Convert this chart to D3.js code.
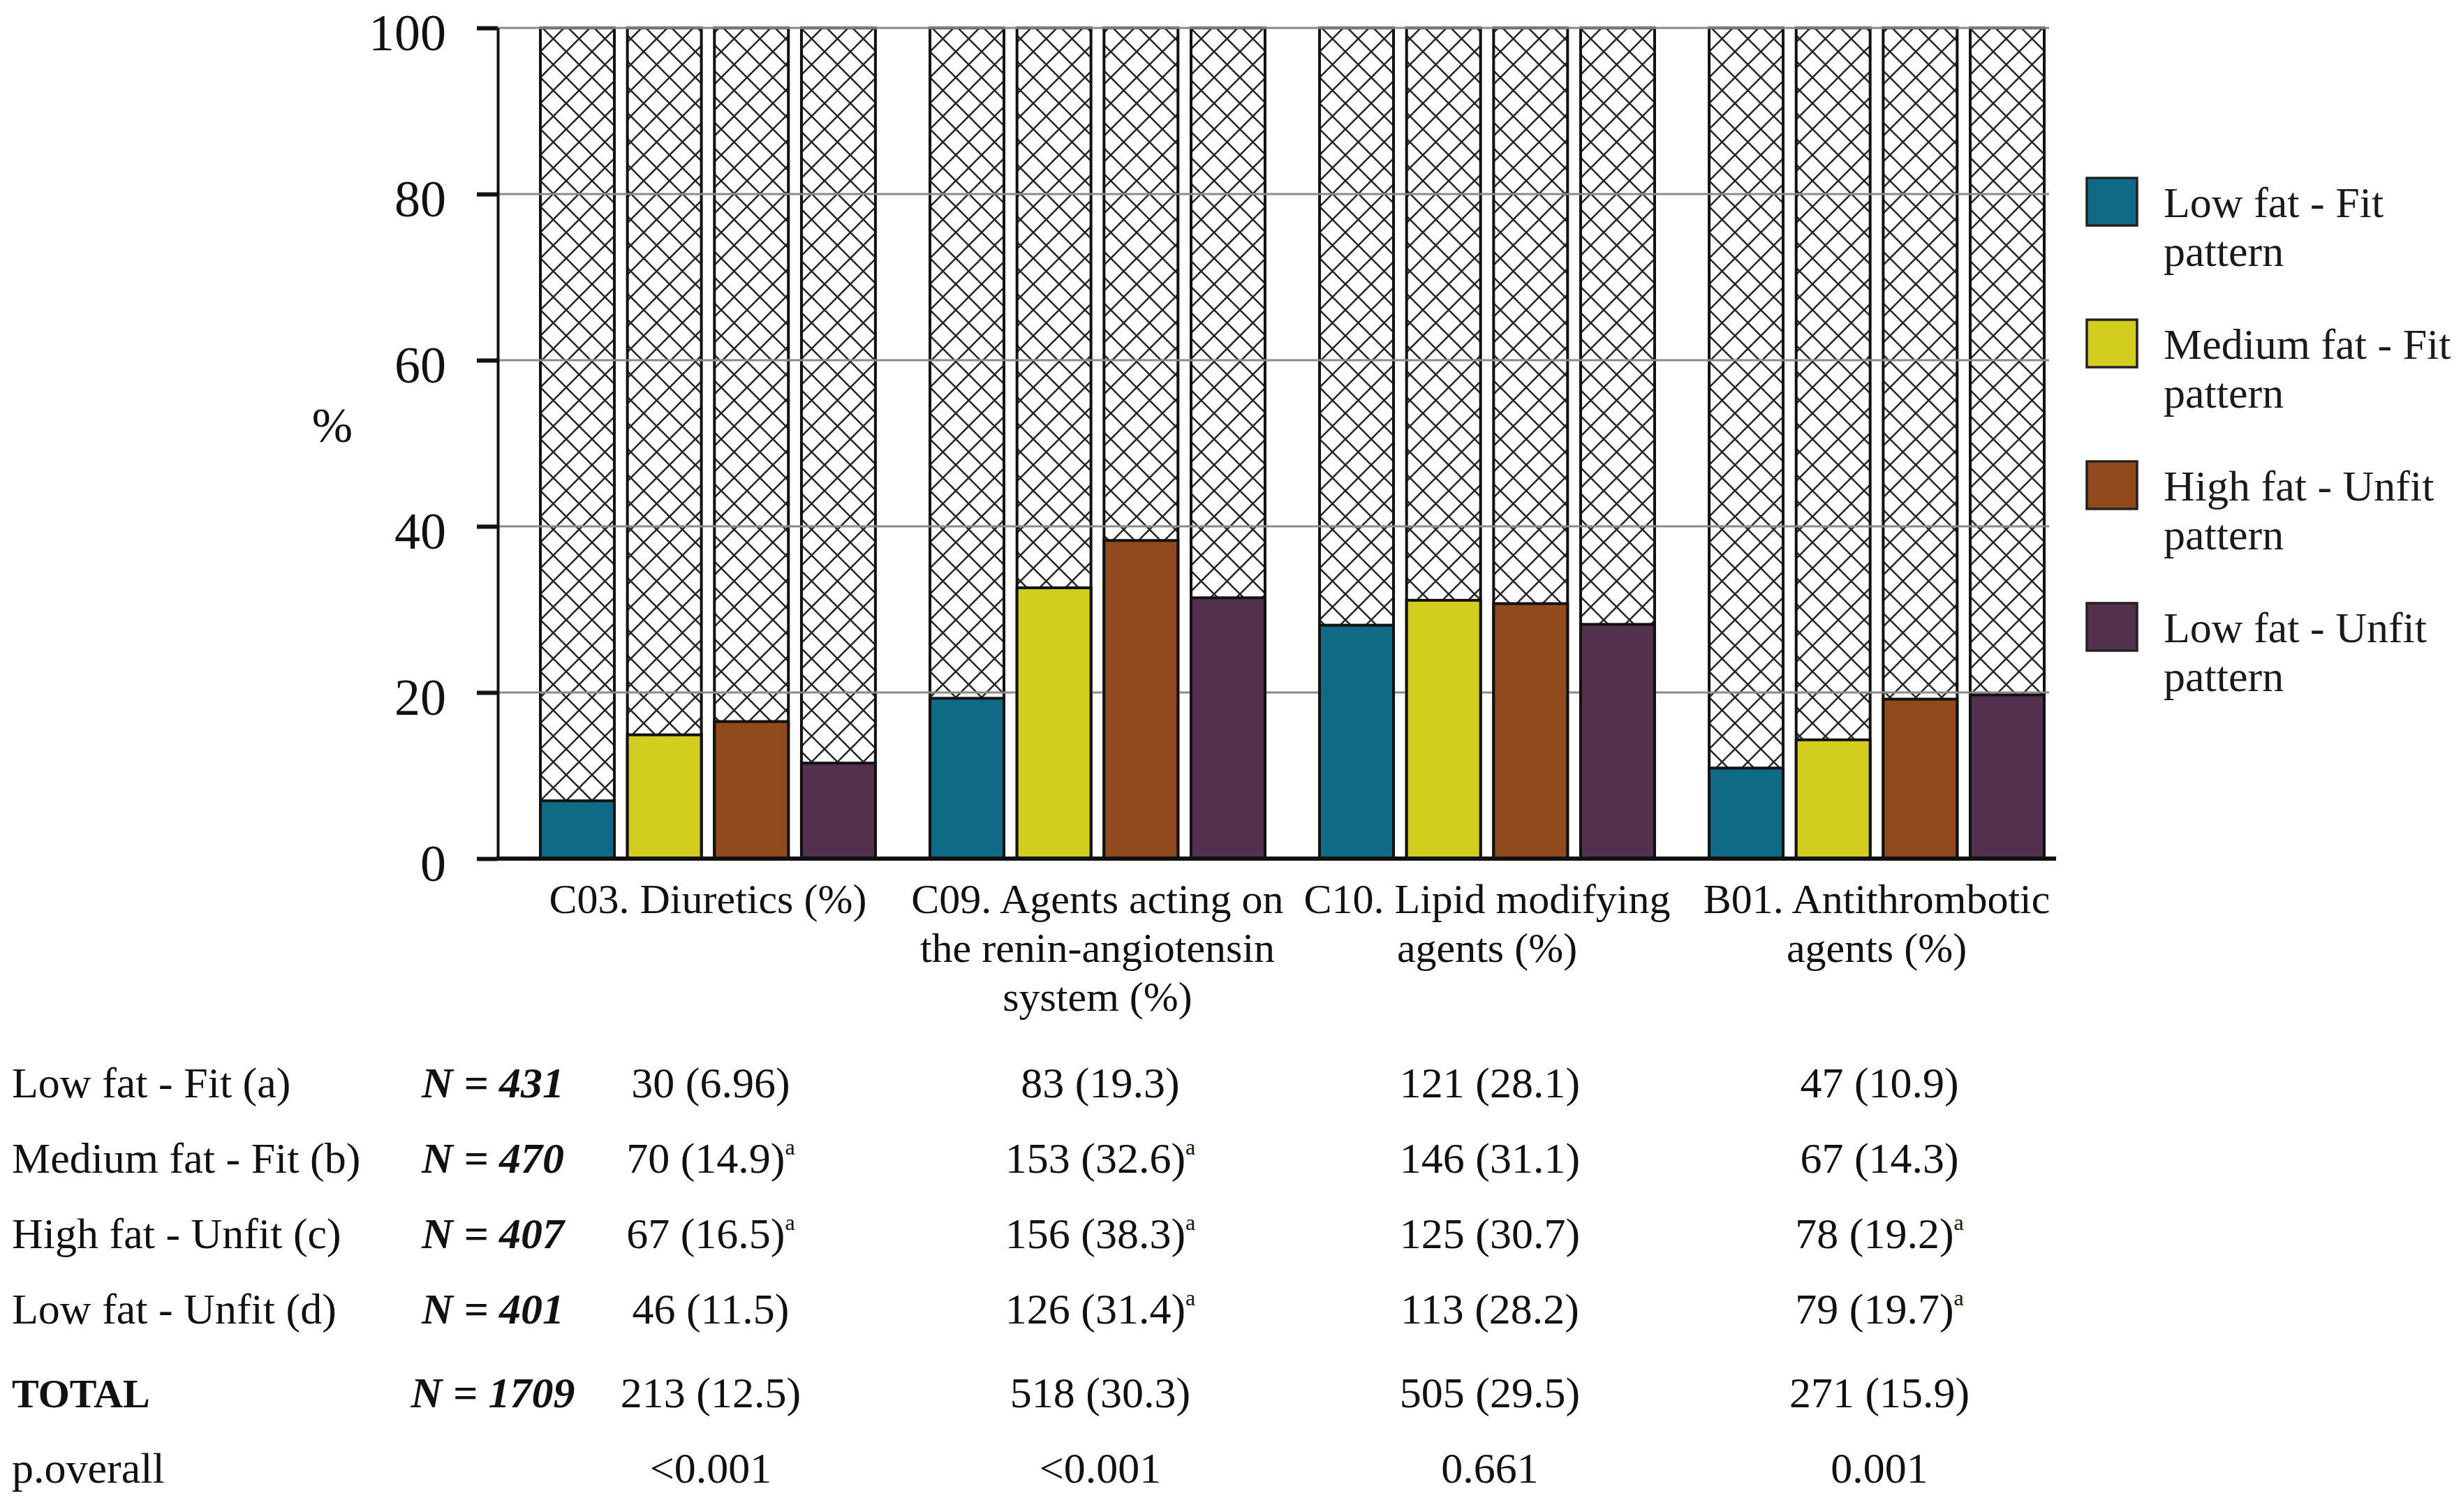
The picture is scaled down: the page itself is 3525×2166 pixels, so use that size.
<!DOCTYPE html>
<html>
<head>
<meta charset="utf-8">
<script src="https://cdn.jsdelivr.net/npm/d3@7"></script>
<style>
  html, body { margin: 0; padding: 0; background: #ffffff; }
  svg { display: block; font-family: "Liberation Serif", "Times New Roman", serif; }
</style>
</head>
<body>
<svg id="chart" width="3525" height="2166"></svg>
<script>
// ---------------- data ----------------
const groups = ["C03", "C09", "C10", "B01"];
const groupLabels = [
  ["C03. Diuretics (%)"],
  ["C09. Agents acting on", "the renin-angiotensin", "system (%)"],
  ["C10. Lipid modifying", "agents (%)"],
  ["B01. Antithrombotic", "agents (%)"]
];
const seriesKeys = ["lowFatFit", "mediumFatFit", "highFatUnfit", "lowFatUnfit"];
const seriesLegend = [
  ["Low fat - Fit", "pattern"],
  ["Medium fat - Fit", "pattern"],
  ["High fat - Unfit", "pattern"],
  ["Low fat - Unfit", "pattern"]
];
const seriesColors = ["#0f6a86", "#d3cd20", "#914a1e", "#54304f"];
const lowFatFit = [6.96, 19.3, 28.1, 10.9];
const mediumFatFit = [14.9, 32.6, 31.1, 14.3];
const highFatUnfit = [16.5, 38.3, 30.7, 19.2];
const lowFatUnfit = [11.5, 31.4, 28.2, 19.7];
const yTicks = [0, 20, 40, 60, 80, 100];
const yLabel = "%";

// table below the chart ("^a" marks a superscript a)
const rowLabels = ["Low fat - Fit (a)", "Medium fat - Fit (b)", "High fat - Unfit (c)", "Low fat - Unfit (d)", "TOTAL", "p.overall"];
const rowN = ["N = 431", "N = 470", "N = 407", "N = 401", "N = 1709", ""];
const rowLowFatFit = ["30 (6.96)", "83 (19.3)", "121 (28.1)", "47 (10.9)"];
const rowMediumFatFit = ["70 (14.9)^a", "153 (32.6)^a", "146 (31.1)", "67 (14.3)"];
const rowHighFatUnfit = ["67 (16.5)^a", "156 (38.3)^a", "125 (30.7)", "78 (19.2)^a"];
const rowLowFatUnfit = ["46 (11.5)", "126 (31.4)^a", "113 (28.2)", "79 (19.7)^a"];
const rowTotal = ["213 (12.5)", "518 (30.3)", "505 (29.5)", "271 (15.9)"];
const rowP = ["<0.001", "<0.001", "0.661", "0.001"];

// ---------------- build ----------------
const seriesValues = [lowFatFit, mediumFatFit, highFatUnfit, lowFatUnfit];
const data = groups.map((g, gi) => ({
  group: g,
  values: seriesKeys.map((k, si) => ({ key: k, value: seriesValues[si][gi], color: seriesColors[si] }))
}));
const tableRows = [rowLowFatFit, rowMediumFatFit, rowHighFatUnfit, rowLowFatUnfit, rowTotal, rowP];

const svg = d3.select("#chart");
const axisX0 = 713, axisX1 = 2945;

const y = d3.scaleLinear().domain([0, 100]).range([1230, 40]);
const x0 = d3.scaleBand().domain(groups).range([774, 2928]).paddingInner(0.14).paddingOuter(0);
const x1 = d3.scaleBand().domain(seriesKeys).range([0, x0.bandwidth()]).paddingInner(0.15).paddingOuter(0);

// hatch pattern
const defs = svg.append("defs");
const pat = defs.append("pattern")
  .attr("id", "hatch").attr("patternUnits", "userSpaceOnUse")
  .attr("width", 37).attr("height", 37);
pat.append("rect").attr("width", 37).attr("height", 37).attr("fill", "#ffffff");
pat.append("path")
  .attr("d", "M-4,-4L41,41M41,-4L-4,41M-4,33L4,41M33,-4L41,4M33,41L41,33M-4,4L4,-4")
  .attr("stroke", "#262626").attr("stroke-width", 2.6).attr("fill", "none");

// background (100%) hatched bars
const gBars = svg.append("g");
const grp = gBars.selectAll("g.grp").data(data).join("g")
  .attr("class", "grp")
  .attr("transform", d => `translate(${x0(d.group)},0)`);
grp.selectAll("rect.bg").data(d => d.values).join("rect")
  .attr("class", "bg")
  .attr("x", d => x1(d.key)).attr("width", x1.bandwidth())
  .attr("y", y(100)).attr("height", y(0) - y(100))
  .attr("fill", "url(#hatch)")
  .attr("stroke", "#111").attr("stroke-width", 4);

// gridlines
svg.append("g").selectAll("line").data(yTicks.filter(t => t > 0)).join("line")
  .attr("x1", axisX0).attr("x2", axisX1 - 10)
  .attr("y1", d => y(d)).attr("y2", d => y(d))
  .attr("stroke", "#8a8a8a").attr("stroke-width", 3);

// coloured bars
const grp2 = svg.append("g").selectAll("g").data(data).join("g")
  .attr("transform", d => `translate(${x0(d.group)},0)`);
grp2.selectAll("rect").data(d => d.values).join("rect")
  .attr("x", d => x1(d.key)).attr("width", x1.bandwidth())
  .attr("y", d => y(d.value)).attr("height", d => y(0) - y(d.value))
  .attr("fill", d => d.color)
  .attr("stroke", "#111").attr("stroke-width", 4);

// y axis
const yAxis = d3.axisLeft(y).tickValues(yTicks).tickSize(30).tickSizeOuter(0).tickPadding(44);
const gy = svg.append("g").attr("transform", `translate(${axisX0},0)`).call(yAxis);
gy.select(".domain").attr("stroke", "#111").attr("stroke-width", 4);
gy.selectAll(".tick line").attr("stroke", "#111").attr("stroke-width", 6);
gy.selectAll(".tick text")
  .attr("font-family", "Liberation Serif, Times New Roman, serif")
  .attr("font-size", 74).attr("fill", "#111").attr("dy", "0.43em");

// x baseline
svg.append("line")
  .attr("x1", axisX0 - 2).attr("x2", axisX1)
  .attr("y1", y(0)).attr("y2", y(0))
  .attr("stroke", "#111").attr("stroke-width", 6);

// y label
svg.append("text").attr("x", 476).attr("y", 633)
  .attr("text-anchor", "middle").attr("font-size", 70).attr("fill", "#111")
  .text(yLabel);

// category labels
const catG = svg.append("g");
groups.forEach((g, gi) => {
  const cx = x0(g) + x0.bandwidth() / 2;
  const t = catG.append("text").attr("text-anchor", "middle")
    .attr("font-size", 60).attr("fill", "#111");
  groupLabels[gi].forEach((line, li) => {
    t.append("tspan").attr("x", cx).attr("y", 1308 + li * 70).text(line);
  });
});

// legend
const legend = svg.append("g");
seriesLegend.forEach((lines, i) => {
  const top = 255 + i * 203;
  legend.append("rect").attr("x", 2989).attr("y", top).attr("width", 72).attr("height", 68)
    .attr("fill", seriesColors[i]).attr("stroke", "#222").attr("stroke-width", 3.5);
  const t = legend.append("text").attr("font-size", 62).attr("fill", "#1a1a1a");
  lines.forEach((ln, li) => {
    t.append("tspan").attr("x", 3099).attr("y", top + 56 + li * 70).text(ln);
  });
});

// table
const rowY = i => 1572 + i * 108 + (i >= 4 ? 12 : 0);
const tbl = svg.append("g").attr("fill", "#111");
rowLabels.forEach((lab, i) => {
  tbl.append("text").attr("x", 17).attr("y", rowY(i))
    .attr("font-size", i === 4 ? 58 : 62)
    .attr("font-weight", i === 4 ? "bold" : "normal")
    .text(lab);
  if (rowN[i]) {
    tbl.append("text").attr("x", 706).attr("y", rowY(i))
      .attr("text-anchor", "middle").attr("font-size", 62)
      .attr("font-weight", "bold").attr("font-style", "italic")
      .text(rowN[i]);
  }
  tableRows[i].forEach((cell, gi) => {
    const cx = x0(groups[gi]) + x0.bandwidth() / 2 + 4;
    const parts = cell.split("^");
    const t = tbl.append("text").attr("x", cx).attr("y", rowY(i))
      .attr("text-anchor", "middle").attr("font-size", 62);
    t.append("tspan").text(parts[0]);
    if (parts[1]) {
      t.append("tspan").attr("font-size", 32).attr("dy", -26).text(parts[1]);
    }
  });
});
</script>
</body>
</html>
